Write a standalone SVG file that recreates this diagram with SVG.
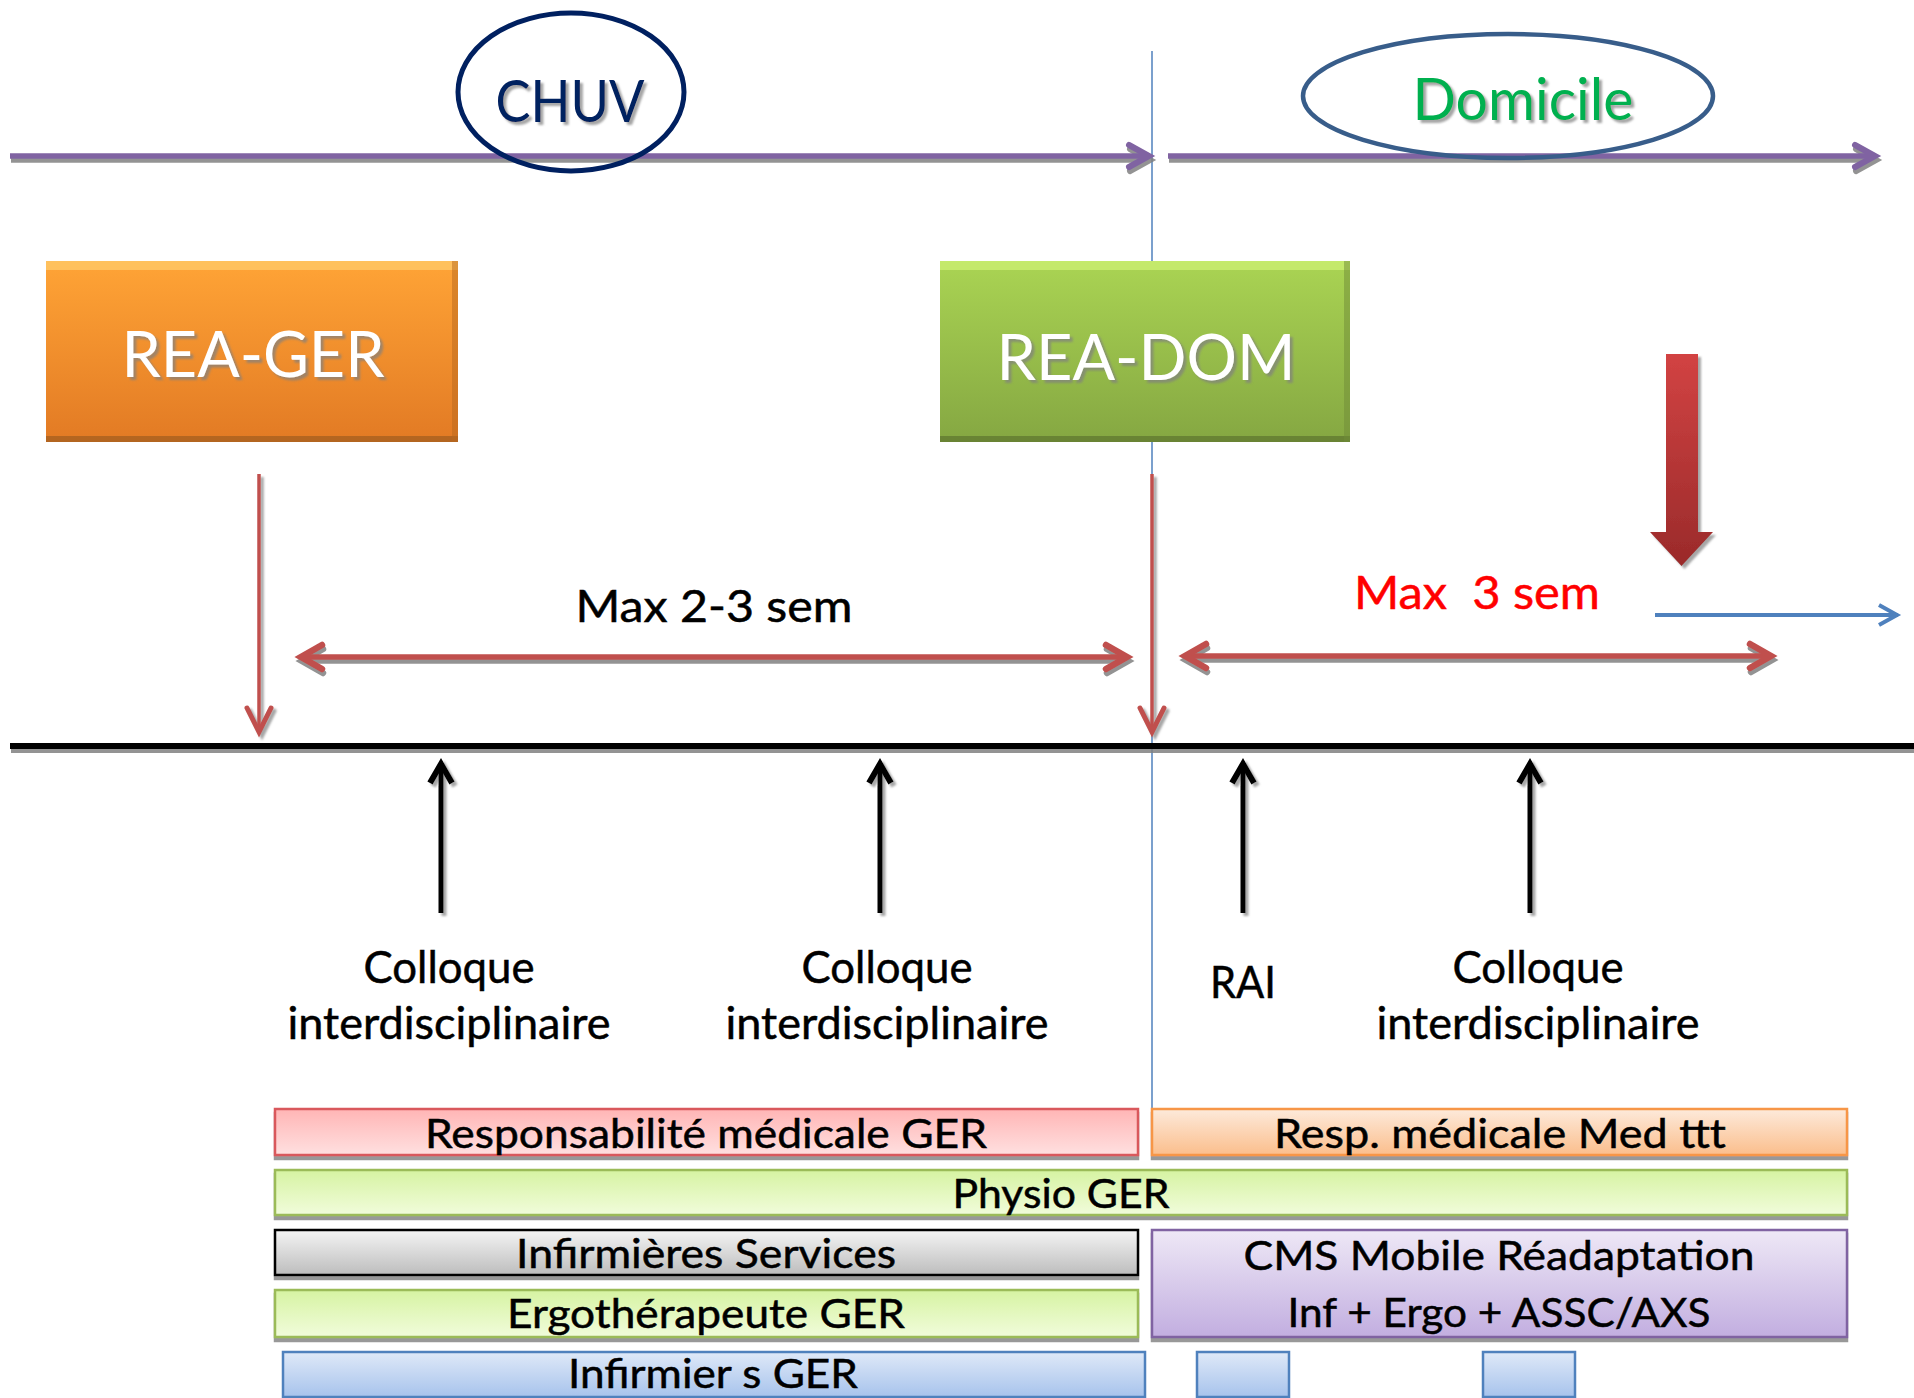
<svg xmlns="http://www.w3.org/2000/svg" width="1914" height="1398" viewBox="0 0 1914 1398">
<style>
text{font-family:Lato,"Open Sans","Liberation Sans",sans-serif;text-anchor:middle}
.bar text{font-size:41px;fill:#000;stroke:#000;stroke-width:0.5}
.lbl{font-size:44px;fill:#000;stroke:#000;stroke-width:0.5}
.big{font-size:64px;fill:#fff;filter:url(#tsh)}
</style>
<defs>
<filter id="sh" x="-5%" y="-50%" width="110%" height="200%">
<feDropShadow dx="1" dy="4" stdDeviation="0.6" flood-color="#808080" flood-opacity="0.85"/>
</filter>
<filter id="shv" x="-50%" y="-5%" width="200%" height="110%">
<feDropShadow dx="3" dy="3" stdDeviation="0.8" flood-color="#808080" flood-opacity="0.7"/>
</filter>
<filter id="bsh" x="-2%" y="-20%" width="104%" height="140%">
<feDropShadow dx="0" dy="4" stdDeviation="0.5" flood-color="#7f7f7f" flood-opacity="0.8"/>
</filter>
<filter id="tsh" x="-5%" y="-10%" width="110%" height="130%">
<feDropShadow dx="3" dy="3" stdDeviation="0.8" flood-color="#7f7f7f" flood-opacity="0.7"/>
</filter>
<linearGradient id="gOr" x1="0" y1="0" x2="0" y2="1"><stop offset="0" stop-color="#FFA436"/><stop offset="1" stop-color="#E27A24"/></linearGradient>
<linearGradient id="gGr" x1="0" y1="0" x2="0" y2="1"><stop offset="0" stop-color="#AAD453"/><stop offset="1" stop-color="#85A742"/></linearGradient>
<linearGradient id="gRed" x1="0" y1="0" x2="0" y2="1"><stop offset="0" stop-color="#D24343"/><stop offset="1" stop-color="#9A2A2A"/></linearGradient>
<linearGradient id="gPink" x1="0" y1="0" x2="0" y2="1"><stop offset="0" stop-color="#FFB5B5"/><stop offset="1" stop-color="#FFE0E0"/></linearGradient>
<linearGradient id="gOrL" x1="0" y1="0" x2="0" y2="1"><stop offset="0" stop-color="#FDEADB"/><stop offset="1" stop-color="#FBBE8C"/></linearGradient>
<linearGradient id="gLime" x1="0" y1="0" x2="0" y2="1"><stop offset="0" stop-color="#D6F3A2"/><stop offset="1" stop-color="#F1FCDB"/></linearGradient>
<linearGradient id="gGray" x1="0" y1="0" x2="0" y2="1"><stop offset="0" stop-color="#F4F4F4"/><stop offset="1" stop-color="#BDBDBD"/></linearGradient>
<linearGradient id="gPur" x1="0" y1="0" x2="0" y2="1"><stop offset="0" stop-color="#EEE8F6"/><stop offset="1" stop-color="#C2AEE0"/></linearGradient>
<linearGradient id="gBlue" x1="0" y1="0" x2="0" y2="1"><stop offset="0" stop-color="#DFE9F8"/><stop offset="1" stop-color="#A7C3EC"/></linearGradient>
<marker id="mPur" markerUnits="userSpaceOnUse" orient="auto" overflow="visible" markerWidth="1" markerHeight="1"><path d="M-21,-11 L-1,0 L-21,11" fill="none" stroke="#8064A2" stroke-width="6" stroke-linecap="round"/></marker>
<marker id="mRed" markerUnits="userSpaceOnUse" orient="auto-start-reverse" overflow="visible" markerWidth="1" markerHeight="1"><path d="M-22,-12 L-1,0 L-22,12" fill="none" stroke="#C0504D" stroke-width="6.5" stroke-linecap="round"/></marker>
<marker id="mRedT" markerUnits="userSpaceOnUse" orient="auto" overflow="visible" markerWidth="1" markerHeight="1"><path d="M-25,-12 L-1,0 L-25,12" fill="none" stroke="#C0504D" stroke-width="5" stroke-linecap="round"/></marker>
<marker id="mBlk" markerUnits="userSpaceOnUse" orient="auto" overflow="visible" markerWidth="1" markerHeight="1"><path d="M-20,-11 L-1,0 L-20,11" fill="none" stroke="#000" stroke-width="6"/></marker>
<marker id="mBlue" markerUnits="userSpaceOnUse" orient="auto" overflow="visible" markerWidth="1" markerHeight="1"><path d="M-19,-10 L-1,0 L-19,10" fill="none" stroke="#4F81BD" stroke-width="4"/></marker>
</defs>
<rect width="1914" height="1398" fill="#fff"/>

<g id="connectors">
<line x1="1152" y1="51" x2="1152" y2="1108" stroke="#4F81BD" stroke-width="1.5"/>
<g filter="url(#sh)">
<line x1="10" y1="156" x2="1150" y2="156" stroke="#8064A2" stroke-width="5.5" marker-end="url(#mPur)"/>
<line x1="1168" y1="156" x2="1876" y2="156" stroke="#8064A2" stroke-width="5.5" marker-end="url(#mPur)"/>
<line x1="300" y1="657" x2="1128" y2="657" stroke="#C0504D" stroke-width="5.5" marker-start="url(#mRed)" marker-end="url(#mRed)"/>
<line x1="1184" y1="656" x2="1772" y2="656" stroke="#C0504D" stroke-width="5.5" marker-start="url(#mRed)" marker-end="url(#mRed)"/>
<line x1="10" y1="746" x2="1914" y2="746" stroke="#000" stroke-width="6"/>
</g>
<g filter="url(#shv)">
<line x1="259" y1="474" x2="259" y2="733" stroke="#C0504D" stroke-width="3.5" marker-end="url(#mRedT)"/>
<line x1="1152" y1="474" x2="1152" y2="733" stroke="#C0504D" stroke-width="3.5" marker-end="url(#mRedT)"/>
<line x1="441" y1="913" x2="441" y2="763" stroke="#000" stroke-width="5" marker-end="url(#mBlk)"/>
<line x1="880" y1="913" x2="880" y2="763" stroke="#000" stroke-width="5" marker-end="url(#mBlk)"/>
<line x1="1243" y1="913" x2="1243" y2="763" stroke="#000" stroke-width="5" marker-end="url(#mBlk)"/>
<line x1="1530" y1="913" x2="1530" y2="763" stroke="#000" stroke-width="5" marker-end="url(#mBlk)"/>
<polygon points="1666,354 1698,354 1698,532 1713,532 1681.5,566 1650,532 1666,532" fill="url(#gRed)"/>
</g>
<line x1="1655" y1="615" x2="1898" y2="615" stroke="#4F81BD" stroke-width="4" marker-end="url(#mBlue)"/>
</g>

<g id="chuv">
<ellipse cx="571" cy="92" rx="113" ry="79" fill="none" stroke="#002060" stroke-width="5"/>
<text x="570" y="122" font-size="58" fill="#002060" filter="url(#tsh)" textLength="149" lengthAdjust="spacingAndGlyphs">CHUV</text>
</g>
<g id="domicile">
<ellipse cx="1508" cy="96" rx="205" ry="62" fill="none" stroke="#385D8A" stroke-width="4.5"/>
<text x="1523" y="120" font-size="58" fill="#00B050" filter="url(#tsh)" textLength="221" lengthAdjust="spacingAndGlyphs">Domicile</text>
</g>

<g id="rea-ger">
<rect x="46" y="261" width="412" height="181" fill="url(#gOr)"/>
<rect x="46" y="261" width="412" height="9" fill="#FFC868" opacity="0.8"/>
<rect x="46" y="436" width="412" height="6" fill="#A8601F" opacity="0.8"/>
<rect x="452" y="261" width="6" height="181" fill="#B8681E" opacity="0.5"/>
<text class="big" x="253" y="377" textLength="263" lengthAdjust="spacingAndGlyphs">REA-GER</text>
</g>
<g id="rea-dom">
<rect x="940" y="261" width="410" height="181" fill="url(#gGr)"/>
<rect x="940" y="261" width="410" height="9" fill="#CBEF72" opacity="0.8"/>
<rect x="940" y="436" width="410" height="6" fill="#667F33" opacity="0.9"/>
<rect x="1344" y="261" width="6" height="181" fill="#6F8C37" opacity="0.5"/>
<text class="big" x="1146" y="380" textLength="299" lengthAdjust="spacingAndGlyphs">REA-DOM</text>
</g>

<g id="labels">
<text class="lbl" x="714" y="622" font-size="47" textLength="277" lengthAdjust="spacingAndGlyphs">Max 2-3 sem</text>
<text x="1477" y="609" font-size="46" fill="#FF0000" stroke="#FF0000" stroke-width="0.5" xml:space="preserve" textLength="246" lengthAdjust="spacingAndGlyphs">Max  3 sem</text>
<text class="lbl" x="449" y="983" textLength="171" lengthAdjust="spacingAndGlyphs">Colloque</text>
<text class="lbl" x="449" y="1039" textLength="323" lengthAdjust="spacingAndGlyphs">interdisciplinaire</text>
<text class="lbl" x="887" y="983" textLength="171" lengthAdjust="spacingAndGlyphs">Colloque</text>
<text class="lbl" x="887" y="1039" textLength="323" lengthAdjust="spacingAndGlyphs">interdisciplinaire</text>
<text class="lbl" x="1243" y="998" textLength="66" lengthAdjust="spacingAndGlyphs">RAI</text>
<text class="lbl" x="1538" y="983" textLength="171" lengthAdjust="spacingAndGlyphs">Colloque</text>
<text class="lbl" x="1538" y="1039" textLength="323" lengthAdjust="spacingAndGlyphs">interdisciplinaire</text>
</g>

<g id="bar-resp-ger" class="bar">
<rect x="275" y="1109" width="863" height="46" fill="url(#gPink)" stroke="#D9595B" stroke-width="2.5" filter="url(#bsh)"/>
<text x="706" y="1148" textLength="562" lengthAdjust="spacingAndGlyphs">Responsabilité médicale GER</text>
</g>
<g id="bar-resp-med" class="bar">
<rect x="1152" y="1109" width="695" height="46" fill="url(#gOrL)" stroke="#F79646" stroke-width="2.5" filter="url(#bsh)"/>
<text x="1500" y="1148" textLength="452" lengthAdjust="spacingAndGlyphs">Resp. médicale Med ttt</text>
</g>
<g id="bar-physio" class="bar">
<rect x="275" y="1170" width="1572" height="45" fill="url(#gLime)" stroke="#9BBB59" stroke-width="2.5" filter="url(#bsh)"/>
<text x="1061" y="1208" textLength="217" lengthAdjust="spacingAndGlyphs">Physio GER</text>
</g>
<g id="bar-inf-services" class="bar">
<rect x="275" y="1230" width="863" height="45" fill="url(#gGray)" stroke="#000" stroke-width="2.5" filter="url(#bsh)"/>
<text x="706" y="1268" textLength="380" lengthAdjust="spacingAndGlyphs">Infirmières Services</text>
</g>
<g id="bar-cms" class="bar">
<rect x="1152" y="1230" width="695" height="107" fill="url(#gPur)" stroke="#8064A2" stroke-width="2.5" filter="url(#bsh)"/>
<text x="1499" y="1270" textLength="511" lengthAdjust="spacingAndGlyphs">CMS Mobile Réadaptation</text>
<text x="1499" y="1327" textLength="423" lengthAdjust="spacingAndGlyphs">Inf + Ergo + ASSC/AXS</text>
</g>
<g id="bar-ergo" class="bar">
<rect x="275" y="1290" width="863" height="47" fill="url(#gLime)" stroke="#9BBB59" stroke-width="2.5" filter="url(#bsh)"/>
<text x="706" y="1328" textLength="398" lengthAdjust="spacingAndGlyphs">Ergothérapeute GER</text>
</g>
<g id="bar-infirmiers" class="bar">
<rect x="283" y="1352" width="862" height="45" fill="url(#gBlue)" stroke="#4F81BD" stroke-width="2.5"/>
<text x="713" y="1388" textLength="290" lengthAdjust="spacingAndGlyphs">Infirmier s GER</text>
</g>
<g id="bar-small-1" class="bar">
<rect x="1197" y="1352" width="92" height="45" fill="url(#gBlue)" stroke="#4F81BD" stroke-width="2.5"/>
</g>
<g id="bar-small-2" class="bar">
<rect x="1483" y="1352" width="92" height="45" fill="url(#gBlue)" stroke="#4F81BD" stroke-width="2.5"/>
</g>
</svg>
